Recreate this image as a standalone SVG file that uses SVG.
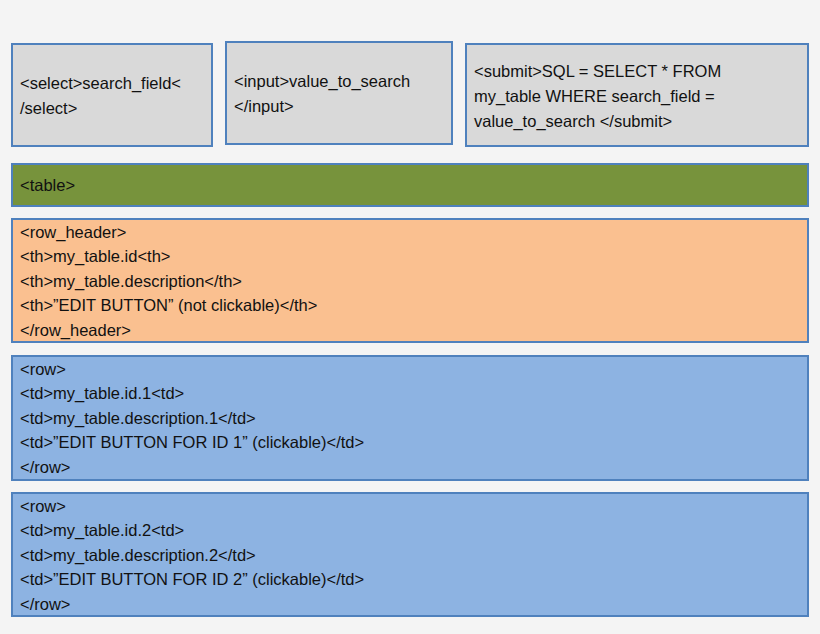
<svg xmlns="http://www.w3.org/2000/svg" width="820" height="634" viewBox="0 0 820 634">
<style>
rect.b{stroke:#4f81bd;stroke-width:2}
.g{fill:#d9d9d9}.gr{fill:#77933c}.o{fill:#fac090}.bl{fill:#8db3e2}
text{font-family:"Liberation Sans",Arial,sans-serif;font-size:16.5px;fill:#111}
</style>
<rect width="820" height="634" fill="#f4f4f4"/>
<g id="select"><rect class="b g" x="12" y="44" width="200" height="102"/>
<text x="20" y="89">&lt;select&gt;search_field&lt;</text><text x="20" y="114">/select&gt;</text></g>
<g id="input"><rect class="b g" x="226" y="42" width="226" height="102"/>
<text x="234" y="87">&lt;input&gt;value_to_search</text><text x="234" y="112">&lt;/input&gt;</text></g>
<g id="submit"><rect class="b g" x="466" y="44" width="342" height="102"/>
<text x="474" y="77">&lt;submit&gt;SQL = SELECT * FROM</text><text x="474" y="102">my_table WHERE search_field =</text><text x="474" y="127">value_to_search &lt;/submit&gt;</text></g>
<g id="table"><rect class="b gr" x="12" y="164" width="796" height="42"/>
<text x="20" y="191">&lt;table&gt;</text></g>
<g id="header"><rect class="b o" x="12" y="219" width="796" height="123"/>
<text x="20" y="238">&lt;row_header&gt;</text><text x="20" y="262">&lt;th&gt;my_table.id&lt;th&gt;</text><text x="20" y="287">&lt;th&gt;my_table.description&lt;/th&gt;</text><text x="20" y="311">&lt;th&gt;”EDIT BUTTON” (not clickable)&lt;/th&gt;</text><text x="20" y="336">&lt;/row_header&gt;</text></g>
<g id="row1"><rect class="b bl" x="12" y="356" width="796" height="124"/>
<text x="20" y="375">&lt;row&gt;</text><text x="20" y="399">&lt;td&gt;my_table.id.1&lt;td&gt;</text><text x="20" y="424">&lt;td&gt;my_table.description.1&lt;/td&gt;</text><text x="20" y="448">&lt;td&gt;”EDIT BUTTON FOR ID 1” (clickable)&lt;/td&gt;</text><text x="20" y="473">&lt;/row&gt;</text></g>
<g id="row2"><rect class="b bl" x="12" y="493" width="796" height="123"/>
<text x="20" y="512">&lt;row&gt;</text><text x="20" y="536">&lt;td&gt;my_table.id.2&lt;td&gt;</text><text x="20" y="561">&lt;td&gt;my_table.description.2&lt;/td&gt;</text><text x="20" y="585">&lt;td&gt;”EDIT BUTTON FOR ID 2” (clickable)&lt;/td&gt;</text><text x="20" y="610">&lt;/row&gt;</text></g>
<g id="connectors"/>
</svg>
